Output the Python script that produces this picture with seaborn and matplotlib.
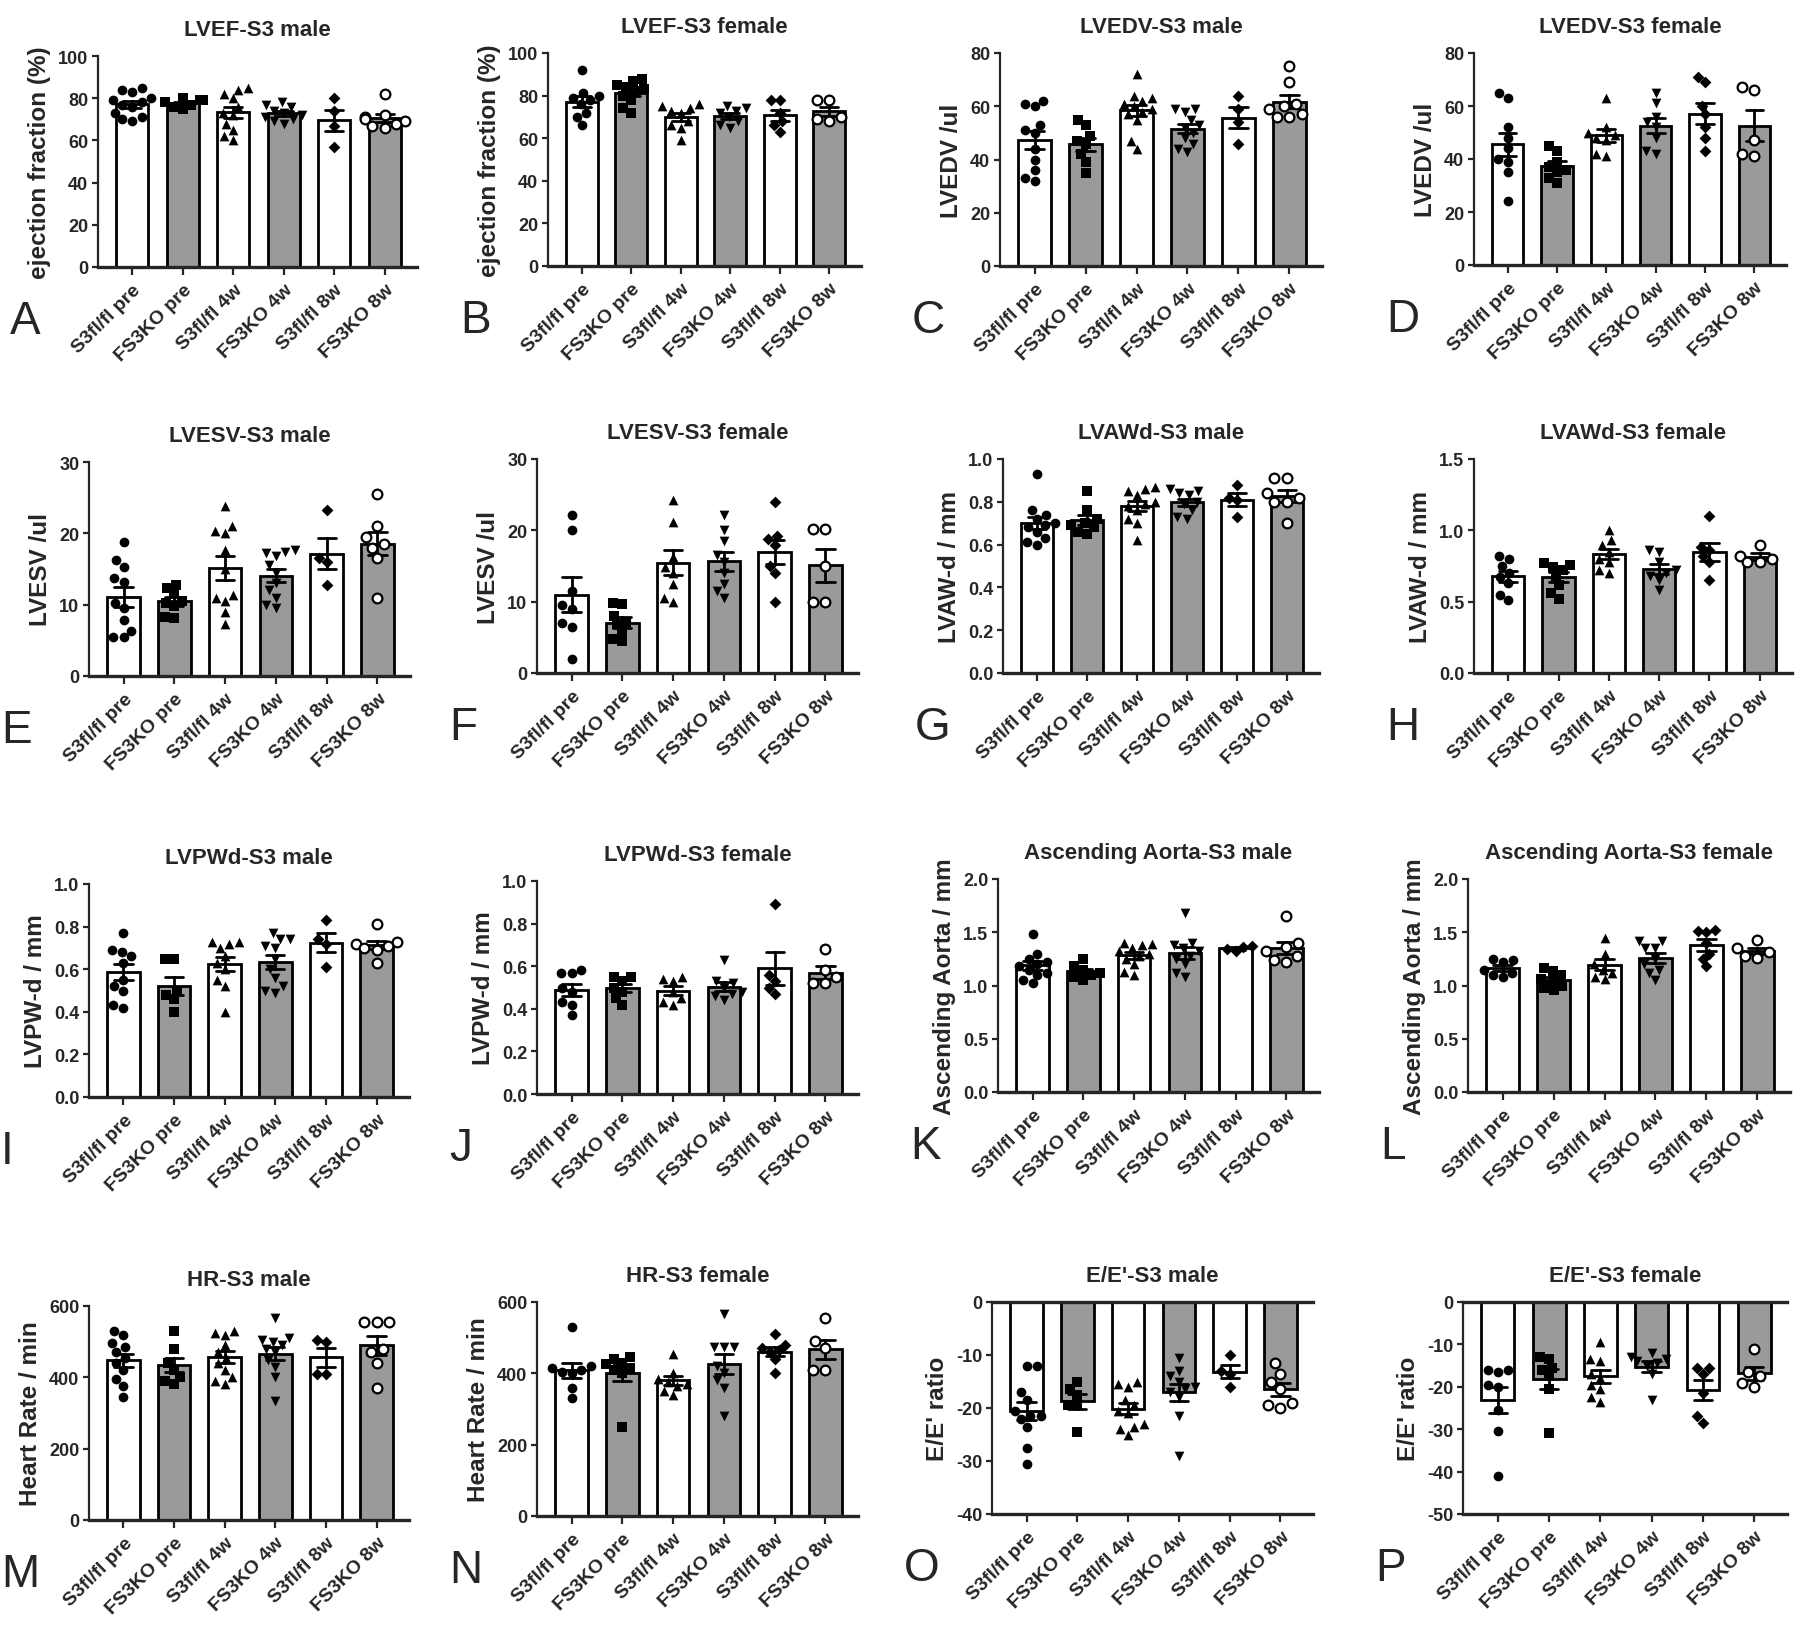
import numpy as np
import pandas as pd
import matplotlib
matplotlib.use("Agg")
import matplotlib.pyplot as plt
import seaborn as sns

groups = ["S3fl/fl pre", "FS3KO pre", "S3fl/fl 4w", "FS3KO 4w", "S3fl/fl 8w", "FS3KO 8w"]

# individual animals per group
lvef_male = [[85, 84, 83, 80, 79, 78, 77, 76, 73, 71, 70, 69],
             [80, 79, 79, 78, 77, 76, 75],
             [85, 84, 82, 80, 76, 73, 72, 68, 65, 62, 60],
             [78, 77, 76, 74, 73, 72, 71, 70, 69, 68],
             [80, 74, 67, 57],
             [82, 72, 71, 70, 69, 68, 67, 66]]
lvef_female = [[92, 81, 80, 79, 78, 76, 72, 70, 66],
               [88, 87, 85, 84, 83, 82, 80, 78, 74, 72],
               [76, 75, 74, 73, 72, 68, 66, 65, 59],
               [75, 74, 73, 72, 70, 68, 66, 65],
               [78, 78, 72, 68, 66, 63],
               [78, 78, 70, 69, 68]]
lvedv_male = [[62, 61, 60, 53, 51, 50, 44, 40, 36, 33, 32],
              [55, 53, 49, 47, 46, 42, 39, 35],
              [72, 64, 63, 62, 61, 60, 59, 58, 57, 55, 47, 44],
              [59, 59, 58, 55, 53, 52, 50, 48, 46, 44, 43],
              [64, 59, 54, 46],
              [75, 69, 61, 60, 59, 57, 56, 56]]
lvedv_female = [[65, 63, 52, 48, 44, 40, 39, 35, 24],
                [45, 43, 39, 37, 36, 35, 33, 31],
                [63, 52, 50, 49, 48, 47, 42, 41],
                [65, 61, 56, 54, 52, 48, 43, 42],
                [71, 69, 60, 57, 52, 48, 43],
                [67, 66, 47, 42, 41]]
lvesv_male = [[18.8, 16.2, 15.3, 13.7, 13.2, 10.2, 9.5, 7.8, 6.3, 5.4, 5.4],
              [12.8, 12.3, 11.5, 10.5, 10.3, 9.8, 8.3, 8.2],
              [23.8, 21.0, 20.3, 20.0, 17.7, 15.0, 11.3, 11.0, 10.5, 9.0, 7.3],
              [17.6, 17.4, 17.2, 16.8, 15.5, 14.5, 13.0, 12.0, 11.0, 10.0, 9.5],
              [23.3, 16.5, 16.0, 12.8],
              [25.5, 21.0, 19.5, 18.5, 18.0, 16.5, 11.0]]
lvesv_female = [[22.2, 20.0, 11.5, 9.5, 9.0, 7.0, 6.5, 2.0],
                [9.8, 9.7, 8.0, 7.2, 6.8, 5.8, 4.8, 4.5],
                [24.3, 21.2, 16.3, 14.8, 14.0, 12.5, 10.5, 10.0],
                [22.2, 20.0, 18.5, 16.5, 15.5, 14.0, 12.5, 11.5, 10.5],
                [24.0, 19.2, 18.8, 18.0, 15.0, 14.0, 10.0],
                [20.2, 20.2, 15.0, 10.0, 10.0]]
lvaw_male = [[0.93, 0.76, 0.74, 0.72, 0.70, 0.69, 0.68, 0.66, 0.63, 0.61, 0.60],
             [0.85, 0.76, 0.72, 0.70, 0.69, 0.68, 0.66, 0.65],
             [0.87, 0.86, 0.85, 0.83, 0.80, 0.79, 0.78, 0.76, 0.72, 0.70, 0.62],
             [0.86, 0.85, 0.84, 0.83, 0.80, 0.79, 0.76, 0.73, 0.72],
             [0.88, 0.82, 0.81, 0.73],
             [0.91, 0.91, 0.84, 0.82, 0.80, 0.80, 0.70]]
lvaw_female = [[0.82, 0.80, 0.75, 0.70, 0.67, 0.63, 0.55, 0.51],
               [0.77, 0.76, 0.74, 0.72, 0.68, 0.62, 0.56, 0.52],
               [1.00, 0.93, 0.90, 0.85, 0.80, 0.78, 0.72, 0.70],
               [0.86, 0.85, 0.78, 0.72, 0.70, 0.68, 0.65, 0.58],
               [1.10, 0.88, 0.86, 0.82, 0.78, 0.65],
               [0.90, 0.82, 0.80, 0.78, 0.78]]
lvpw_male = [[0.77, 0.69, 0.68, 0.66, 0.63, 0.55, 0.52, 0.50, 0.43, 0.42],
             [0.65, 0.65, 0.50, 0.48, 0.46, 0.40],
             [0.73, 0.73, 0.72, 0.70, 0.66, 0.63, 0.60, 0.55, 0.52, 0.40],
             [0.77, 0.74, 0.74, 0.71, 0.70, 0.65, 0.60, 0.56, 0.52, 0.50, 0.49],
             [0.83, 0.74, 0.72, 0.61],
             [0.81, 0.73, 0.72, 0.71, 0.70, 0.69, 0.63]]
lvpw_female = [[0.58, 0.57, 0.57, 0.50, 0.48, 0.43, 0.42, 0.37],
               [0.55, 0.55, 0.53, 0.50, 0.48, 0.45, 0.42],
               [0.55, 0.54, 0.53, 0.48, 0.45, 0.43, 0.42],
               [0.63, 0.53, 0.52, 0.50, 0.48, 0.47, 0.46, 0.44],
               [0.89, 0.56, 0.53, 0.50, 0.47],
               [0.68, 0.58, 0.55, 0.52, 0.52]]
aorta_male = [[1.48, 1.30, 1.25, 1.22, 1.20, 1.18, 1.15, 1.12, 1.10, 1.05, 1.02],
              [1.25, 1.18, 1.15, 1.12, 1.10, 1.08, 1.05],
              [1.40, 1.39, 1.38, 1.35, 1.32, 1.30, 1.28, 1.25, 1.20, 1.13, 1.10],
              [1.68, 1.40, 1.38, 1.35, 1.32, 1.28, 1.25, 1.20, 1.12, 1.08],
              [1.37, 1.36, 1.34, 1.32],
              [1.65, 1.40, 1.36, 1.32, 1.28, 1.24, 1.22]]
aorta_female = [[1.25, 1.24, 1.22, 1.15, 1.12, 1.10, 1.08],
                [1.16, 1.14, 1.10, 1.06, 1.05, 1.00, 0.98, 0.96],
                [1.45, 1.30, 1.20, 1.15, 1.12, 1.08, 1.06],
                [1.42, 1.42, 1.35, 1.35, 1.25, 1.20, 1.15, 1.12, 1.05],
                [1.52, 1.51, 1.50, 1.40, 1.30, 1.25, 1.18],
                [1.43, 1.35, 1.31, 1.28, 1.26]]
hr_male = [[530, 520, 495, 485, 470, 455, 440, 420, 395, 375, 345],
           [530, 480, 440, 420, 400, 390, 380],
           [530, 525, 520, 490, 470, 455, 440, 420, 400, 390, 380],
           [565, 510, 505, 500, 490, 480, 470, 450, 430, 400, 335],
           [505, 500, 410, 410],
           [555, 555, 555, 480, 470, 440, 370]]
hr_female = [[530, 420, 415, 410, 405, 400, 360, 330],
             [445, 440, 430, 425, 415, 410, 400, 250],
             [455, 400, 385, 375, 370, 365, 350, 340],
             [565, 475, 475, 475, 420, 400, 380, 360, 280],
             [510, 480, 470, 465, 460, 440, 400],
             [555, 490, 470, 410, 410]]
ee_male = [[-12, -12, -17, -18.5, -20.5, -21.5, -21.5, -22, -23.5, -27.5, -30.5],
           [-15, -16.5, -17.5, -19.5, -19.5, -24.5],
           [-15, -15.5, -16, -18.5, -19.5, -20.5, -21, -23, -23.5, -24, -25],
           [-10.5, -13, -14, -15, -16, -16.5, -17, -18, -21.5, -29],
           [-10, -13, -13.5, -16],
           [-11.5, -13.5, -15, -16.5, -19, -19.5, -20]]
ee_female = [[-16, -16, -16.5, -19.5, -20, -25.5, -30.5, -41],
             [-13, -13.5, -15.5, -16, -17.5, -20.5, -31],
             [-9.5, -13.5, -14, -17, -18, -19.5, -20.5, -22.5, -23.5],
             [-12, -13, -13.5, -14, -14.5, -15, -17, -23],
             [-15.5, -15.5, -17, -21.5, -28.5, -27],
             [-11, -16.5, -17.5, -19, -20]]

sns.set_style("ticks")
plt.rcParams['font.family'] = ['Liberation Sans', 'DejaVu Sans']
plt.rcParams['font.weight'] = 'bold'
narrow = ['Liberation Sans Narrow', 'Liberation Sans', 'DejaVu Sans']

W, H = 1800, 1631
fig = plt.figure(figsize=(W / 100, H / 100), dpi=100)

bar_colors = ['white', '#9a9a9a'] * 3
markers = ['o', 's', '^', 'v', 'D', 'o']
msize = [7, 6.5, 7, 7, 6, 7]


def panel(px, vals, title, ylabel, ylim, yticks, fmt, letter):
    x0, y0, x1, y1 = px
    ax = fig.add_axes([x0 / W, 1 - y1 / H, (x1 - x0) / W, (y1 - y0) / H])
    df = pd.DataFrame({'group': np.repeat(groups, [len(v) for v in vals]),
                       'value': np.concatenate(vals)})
    sns.barplot(data=df, x='group', y='value', hue='group', order=groups,
                hue_order=groups, palette=dict(zip(groups, bar_colors)),
                width=0.64, errorbar='se', capsize=0.36,
                err_kws={'color': 'black', 'linewidth': 2.0},
                edgecolor='black', linewidth=2.0, legend=False, ax=ax)
    for i, g in enumerate(groups):
        if i == 5:
            kw = dict(color='white', edgecolor='black', linewidth=1.6)
        else:
            kw = dict(color='black', linewidth=0)
        sns.swarmplot(x=[g] * len(vals[i]), y=vals[i], order=groups,
                      marker=markers[i], size=msize[i], ax=ax, **kw)

    ax.set_xlim(-0.68, 5.64)
    ax.set_ylim(ylim)
    ax.set_yticks(yticks)
    ax.set_yticklabels([fmt.format(t) for t in yticks], fontfamily=narrow,
                       fontsize=13, fontweight='bold')
    ax.set_xticks(range(len(groups)))
    ax.set_xticklabels(groups, rotation=45, ha='right', rotation_mode='anchor',
                       fontsize=14, fontweight='bold')
    ax.set_xlabel('')
    ax.set_ylabel(ylabel, fontsize=17.5, fontweight='bold', labelpad=5)
    ax.set_title(title, fontsize=16, fontweight='bold', pad=15)
    ax.tick_params(axis='y', direction='out', length=4, width=1.6, pad=3)
    ax.tick_params(axis='x', direction='out', length=6, width=1.6, pad=4)
    ax.spines['right'].set_visible(False)
    ax.spines['left'].set_linewidth(1.6)
    ax.spines['bottom'].set_linewidth(2.4)
    if ylim[1] == 0:
        ax.spines['top'].set_linewidth(2.4)
    else:
        ax.spines['top'].set_visible(False)
    fig.text((x0 - 88) / W, 1 - (y1 + 66) / H, letter, fontsize=33,
             fontweight='normal', va='baseline', ha='left')
    return ax


pct = list(range(0, 101, 20))
panel((98, 57, 417, 268), lvef_male, "LVEF-S3 male", "ejection fraction (%)", (0, 100), pct, "{:d}", "A")
panel((548, 54, 861, 267), lvef_female, "LVEF-S3 female", "ejection fraction (%)", (0, 100), pct, "{:d}", "B")
panel((1000, 54, 1322, 267), lvedv_male, "LVEDV-S3 male", "LVEDV /ul", (0, 80), [0, 20, 40, 60, 80], "{:d}", "C")
panel((1474, 54, 1786, 266), lvedv_female, "LVEDV-S3 female", "LVEDV /ul", (0, 80), [0, 20, 40, 60, 80], "{:d}", "D")

panel((89, 463, 410, 677), lvesv_male, "LVESV-S3 male", "LVESV /ul", (0, 30), [0, 10, 20, 30], "{:d}", "E")
panel((537, 460, 858, 674), lvesv_female, "LVESV-S3 female", "LVESV /ul", (0, 30), [0, 10, 20, 30], "{:d}", "F")
panel((1003, 460, 1319, 674), lvaw_male, "LVAWd-S3 male", "LVAW-d / mm", (0, 1.0), [0, 0.2, 0.4, 0.6, 0.8, 1.0], "{:.1f}", "G")
panel((1474, 460, 1792, 674), lvaw_female, "LVAWd-S3 female", "LVAW-d / mm", (0, 1.5), [0, 0.5, 1.0, 1.5], "{:.1f}", "H")

panel((89, 885, 409, 1098), lvpw_male, "LVPWd-S3 male", "LVPW-d / mm", (0, 1.0), [0, 0.2, 0.4, 0.6, 0.8, 1.0], "{:.1f}", "I")
panel((537, 882, 858, 1095), lvpw_female, "LVPWd-S3 female", "LVPW-d / mm", (0, 1.0), [0, 0.2, 0.4, 0.6, 0.8, 1.0], "{:.1f}", "J")
panel((998, 880, 1319, 1093), aorta_male, "Ascending Aorta-S3 male", "Ascending Aorta / mm", (0, 2.0), [0, 0.5, 1.0, 1.5, 2.0], "{:.1f}", "K")
panel((1468, 880, 1790, 1093), aorta_female, "Ascending Aorta-S3 female", "Ascending Aorta / mm", (0, 2.0), [0, 0.5, 1.0, 1.5, 2.0], "{:.1f}", "L")

panel((89, 1307, 409, 1521), hr_male, "HR-S3 male", "Heart Rate / min", (0, 600), [0, 200, 400, 600], "{:d}", "M")
panel((537, 1303, 858, 1517), hr_female, "HR-S3 female", "Heart Rate / min", (0, 600), [0, 200, 400, 600], "{:d}", "N")
panel((992, 1303, 1313, 1515), ee_male, "E/E'-S3 male", "E/E' ratio", (-40, 0), [-40, -30, -20, -10, 0], "{:d}", "O")
panel((1463, 1303, 1787, 1515), ee_female, "E/E'-S3 female", "E/E' ratio", (-50, 0), [-50, -40, -30, -20, -10, 0], "{:d}", "P")

fig.savefig("out.png", dpi=100)
